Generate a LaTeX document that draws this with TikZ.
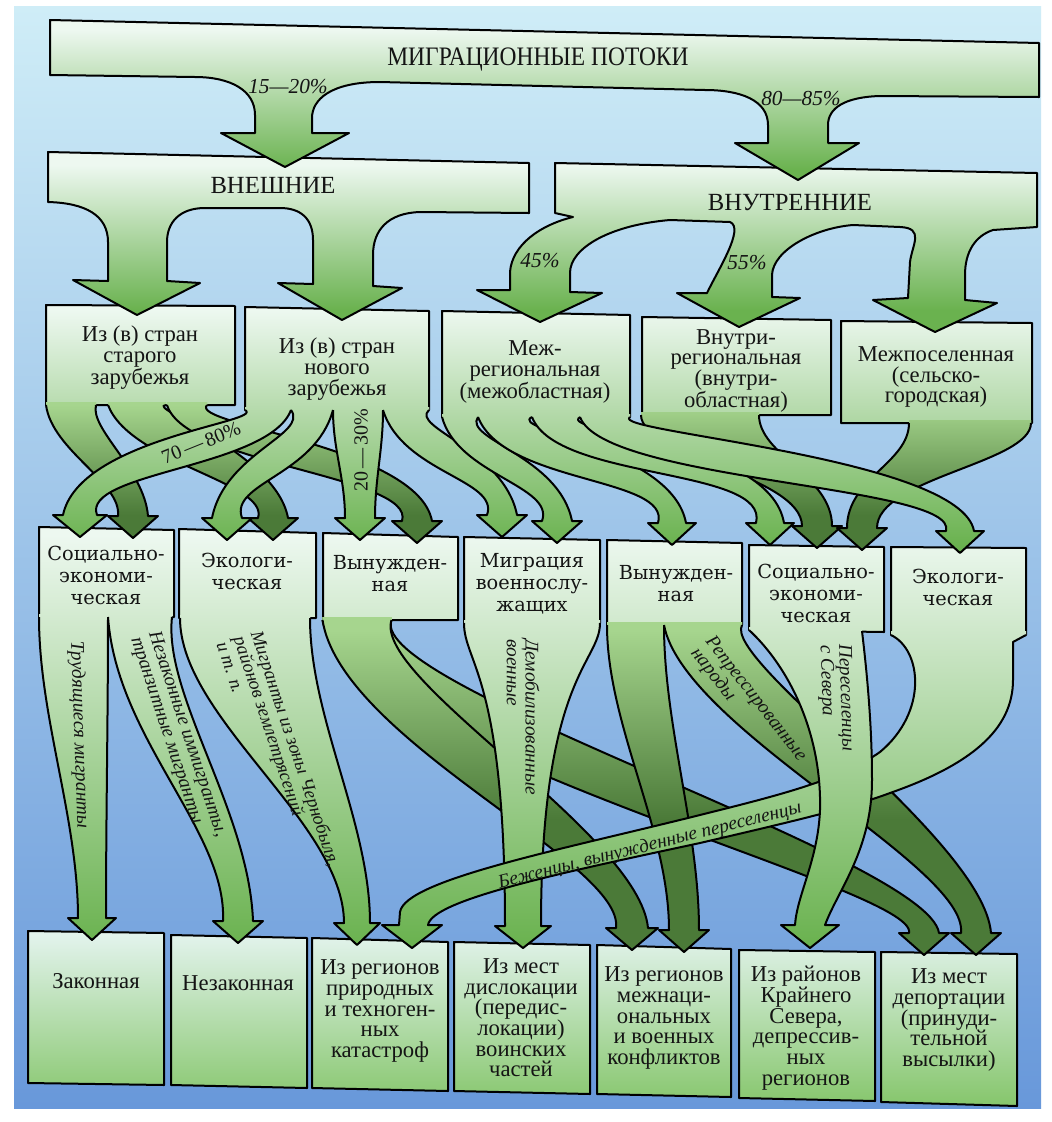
\documentclass[tikz,border=0pt]{standalone}
\usepackage{fontspec}
\setmainfont{Liberation Serif}
\newfontfamily\titlef[FakeStretch=0.88]{Liberation Serif}
\newfontfamily\schf{DejaVu Serif}
\definecolor{bgtop}{HTML}{CFEDF7}
\definecolor{bgmid}{HTML}{A2CAEC}
\definecolor{bgbot}{HTML}{6898DA}
\definecolor{gA}{HTML}{EDF8F0}
\definecolor{gB}{HTML}{6AB24F}
\definecolor{gM}{HTML}{A6D58E}
\definecolor{dB}{HTML}{4B7A38}
\definecolor{gAf}{HTML}{E2F3EC}
\definecolor{gBf}{HTML}{86C66C}
\tikzset{
  outl/.style={draw=black, line width=1.5pt, line join=round},
  grad/.style n args={4}{fill=#3, path picture={
      \fill[#3] (-50,-300) rectangle (1150,#1);
      \shade[top color=#3,bottom color=#4] (-50,#1) rectangle (1150,#2);
      \fill[#4] (-50,#2) rectangle (1150,1400);}},
  g0/.style={grad={30}{170}{gA}{gB}},
  g1/.style={grad={165}{310}{gA}{gB}},
  g2/.style={grad={310}{545}{gA}{gB}},
  d2/.style={grad={405}{515}{gM}{dB}},
  g3/.style={grad={535}{945}{gA}{gB}},
  d3/.style={grad={630}{820}{gM}{dB}},
  g4/.style={grad={935}{1105}{gAf}{gBf}},
  tt/.style={align=center, inner sep=0pt, text=black!92, font=\fontsize{17}{15.5}\selectfont},
  tt3/.style={align=center, inner sep=0pt, text=black!92, font=\schf\fontsize{14.5}{16.5}\selectfont},
  lab/.style={align=left, inner sep=0pt, text=black!92, font=\fontsize{14.5}{14}\selectfont\itshape},
  pct/.style={inner sep=0pt, text=black!92, font=\fontsize{16}{16}\selectfont\itshape},
  pcu/.style={inner sep=0pt, text=black!92, font=\fontsize{15}{15}\selectfont},
}
\def\RbK{1}
% #1 style, #2 x1, #3 y1, #4 w1, #5 x2, #6 y2 (head base), #7 w2, #8 c1, #9 c2
\newcommand\myrib[9]{%
\pgfmathsetmacro\RbDx{(#5)-(#2)}%
\pgfmathsetmacro\RbDy{((#6)-(#9))-((#3)+(#8))}%
\pgfmathsetmacro\RbA{(\RbDx)/100}%
\pgfmathsetmacro\RbB{(\RbDy)/100}%
\pgfmathsetmacro\RbL{100*sqrt((\RbA)*(\RbA)+(\RbB)*(\RbB))+0.001}%
\pgfmathsetmacro\RbOx{(1-\RbK)*(-1)+\RbK*(-(\RbDy)/\RbL)}%
\pgfmathsetmacro\RbOy{\RbK*((\RbDx)/\RbL)}%
\pgfmathsetmacro\RbaW{#2-(#4)/2}%
\pgfmathsetmacro\RbaE{#2+(#4)/2}%
\pgfmathsetmacro\RbbWx{#2+(\RbOx)*(#4)/2}%
\pgfmathsetmacro\RbbWy{#3+#8+(\RbOy)*(#4)/2}%
\pgfmathsetmacro\RbbEx{#2-(\RbOx)*(#4)/2}%
\pgfmathsetmacro\RbbEy{#3+#8-(\RbOy)*(#4)/2}%
\pgfmathsetmacro\RbcWx{#5+(\RbOx)*(#7)/2}%
\pgfmathsetmacro\RbcWy{#6-#9+(\RbOy)*(#7)/2}%
\pgfmathsetmacro\RbcEx{#5-(\RbOx)*(#7)/2}%
\pgfmathsetmacro\RbcEy{#6-#9-(\RbOy)*(#7)/2}%
\pgfmathsetmacro\RbdW{#5-(#7)/2}%
\pgfmathsetmacro\RbdE{#5+(#7)/2}%
\pgfmathsetmacro\RbhW{#5-(#7)/2-10}%
\pgfmathsetmacro\RbhE{#5+(#7)/2+10}%
\pgfmathsetmacro\RbtY{#6+22}%
\pgfmathsetmacro\RbyT{#3-3}%
\path[#1] (\RbaW,\RbyT) -- (\RbaW,#3) .. controls (\RbbWx,\RbbWy) and (\RbcWx,\RbcWy) .. (\RbdW,#6) -- (\RbhW,#6) -- (#5,\RbtY) -- (\RbhE,#6) -- (\RbdE,#6) .. controls (\RbcEx,\RbcEy) and (\RbbEx,\RbbEy) .. (\RbaE,#3) -- (\RbaE,\RbyT) -- cycle;
\draw[outl] (\RbaW,#3) .. controls (\RbbWx,\RbbWy) and (\RbcWx,\RbcWy) .. (\RbdW,#6) -- (\RbhW,#6) -- (#5,\RbtY) -- (\RbhE,#6) -- (\RbdE,#6) .. controls (\RbcEx,\RbcEy) and (\RbbEx,\RbbEy) .. (\RbaE,#3);
}
\begin{document}
\begin{tikzpicture}[x=0.75pt,y=-0.75pt]
\useasboundingbox (0,0) rectangle (1051,1122);
\fill[white] (0,0) rectangle (1051,1122);
\shade[top color=bgtop,middle color=bgmid,bottom color=bgbot] (14,6) rectangle (1041,1108);

% ---------------- level 4 boxes
\path[g4,outl] (28,931) -- (164,933) -- (164,1085) -- (28,1083) -- cycle;
\path[g4,outl] (171,935) -- (307,938) -- (307,1088) -- (171,1085) -- cycle;
\path[g4,outl] (312,938) -- (448,942) -- (448,1091) -- (312,1088) -- cycle;
\path[g4,outl] (454,942) -- (590,945) -- (590,1094) -- (454,1091) -- cycle;
\path[g4,outl] (597,945) -- (731,949) -- (731,1097) -- (597,1094) -- cycle;
\path[g4,outl] (739,950) -- (875,952) -- (875,1101) -- (739,1098) -- cycle;
\path[g4,outl] (881,952) -- (1017,954) -- (1017,1106) -- (881,1102) -- cycle;
\node[tt] (q1) at (96,981) {Законная};
\node[tt] (q2) at (238,983) {Незаконная};
\node[tt] (q3) at (380,1011) {Из регионов\\природных\\и техноген-\\ных\\катастроф};
\node[tt] (q4) at (521,1018) {Из мест\\дислокации\\(передис-\\локации)\\воинских\\частей};
\node[tt] (q5) at (664,1018) {Из регионов\\межнаци-\\ональных\\и военных\\конфликтов};
\node[tt] (q6) at (806,1028) {Из районов\\Крайнего\\Севера,\\депрессив-\\ных\\регионов};
\node[tt] (q7) at (949,1020) {Из мест\\депортации\\(принуди-\\тельной\\высылки)};

% ---------------- level 3 boxes
\path[g3,outl] (39,527) -- (174,530) -- (174,617) -- (39,617) -- cycle;
\path[g3,outl] (179,529) -- (316,533) -- (316,618) -- (179,618) -- cycle;
\path[g3,outl] (323,533) -- (458,537) -- (458,620) -- (323,620) -- cycle;
\path[g3,outl] (464,537) -- (600,540) -- (600,623) -- (464,623) -- cycle;
\path[g3,outl] (607,540) -- (742,543) -- (742,625) -- (607,625) -- cycle;
\path[g3,outl] (749,545) -- (884,547) -- (884,632) -- (749,630) -- cycle;
\path[g3,outl] (891,547) -- (1026,548) -- (1026,635) -- (891,635) -- cycle;

% dark flows level 3
\def\RbK{1}
\myrib{d3}{357}{620}{69}{924}{933}{30}{100}{60}
\myrib{d3}{357}{620}{69}{632}{928}{32}{90}{80}
\def\RbK{0}
\myrib{d3}{635.5}{625}{57}{684}{930}{30}{100}{100}
\def\RbK{1}
\myrib{d3}{703}{625}{78}{976}{933}{30}{70}{80}
% green flows level 3
\def\RbK{0}
\myrib{g3}{73.5}{617}{69}{92}{918}{28}{100}{100}
\def\RbK{1}
\myrib{g3}{140}{617}{64}{238}{921}{30}{100}{100}
\def\RbK{0}
\myrib{g3}{245}{618}{130}{357}{923}{26}{100}{100}
\myrib{g3}{532}{623}{136}{523}{926}{36}{40}{250}
% refugees band
\path[g3] (891,631) -- (891,635) .. controls (922,650) and (928,712) .. (880,752) .. controls (840,780) and (780,795) .. (700,815) .. controls (560,850) and (405,880) .. (400,912) -- (399,925) -- (382,925) -- (412,948) -- (442,925) -- (428,925) .. controls (432,900) and (560,873) .. (700,843) .. controls (790,822) and (850,808) .. (890,793) .. controls (970,765) and (1013,730) .. (1013,680) -- (1013,642) -- (1026,635) -- (1026,631) -- cycle;
\draw[outl] (891,635) .. controls (922,650) and (928,712) .. (880,752) .. controls (840,780) and (780,795) .. (700,815) .. controls (560,850) and (405,880) .. (400,912) -- (399,925) -- (382,925) -- (412,948) -- (442,925) -- (428,925) .. controls (432,900) and (560,873) .. (700,843) .. controls (790,822) and (850,808) .. (890,793) .. controls (970,765) and (1013,730) .. (1013,680) -- (1013,642) -- (1026,635);
% north settlers
\path[g3] (749,627) -- (749,630) .. controls (790,668) and (822,735) .. (820,810) .. controls (818,860) and (797,895) .. (795,925) -- (781,925) -- (810,948) -- (839,925) -- (825,925) .. controls (838,890) and (872,850) .. (872,780) .. controls (872,720) and (866,665) .. (862,631) -- (862,627) -- cycle;
\draw[outl] (749,630) .. controls (790,668) and (822,735) .. (820,810) .. controls (818,860) and (797,895) .. (795,925) -- (781,925) -- (810,948) -- (839,925) -- (825,925) .. controls (838,890) and (872,850) .. (872,780) .. controls (872,720) and (866,665) .. (862,631);

\node[tt3] (m1) at (106,575) {Социально-\\экономи-\\ческая};
\node[tt3] (m2) at (247,571) {Экологи-\\ческая};
\node[tt3] (m3) at (390,574) {Вынужден-\\ная};
\node[tt3] (m4) at (532,584) {Миграция\\военнослу-\\жащих};
\node[tt3] (m5) at (676,584) {Вынужден-\\ная};
\node[tt3] (m6) at (816,593) {Социально-\\экономи-\\ческая};
\node[tt3] (m7) at (958,587) {Экологи-\\ческая};

\node[lab,rotate=-88] (l1) at (79,735) {Трудящиеся мигранты};
\node[lab,rotate=-71.6] (l2) at (178,737) {Незаконные иммигранты,\\транзитные мигранты};
\node[lab,rotate=-71.5,font=\fontsize{14}{13.5}\selectfont\itshape] (l3) at (279,754) {Мигранты из зоны Чернобыля,\\районов землетрясений\\и т. п.};
\node[lab,rotate=-90] (l4) at (523,717) {Демобилизованные\\военные};
\node[lab,rotate=-52] (l5) at (748,705) {Репрессированные\\народы};
\node[lab,rotate=-88] (l6) at (836,698) {Переселенцы\\с Севера};
\node[lab,rotate=14] (l7) at (650,846) {Беженцы, вынужденные переселенцы};

% ---------------- level 2 boxes
\path[g2,outl] (46,305) -- (235,306) -- (235,405) -- (46,405) -- cycle;
\path[g2,outl] (245,307) -- (429,311) -- (429,410) -- (245,410) -- cycle;
\path[g2,outl] (442,311) -- (630,315) -- (630,417) -- (442,417) -- cycle;
\path[g2,outl] (642,317) -- (831,320) -- (831,415) -- (642,415) -- cycle;
\path[g2,outl] (841,321) -- (1032,323) -- (1032,423) -- (841,423) -- cycle;
% dark flows level 2
\def\RbK{0.5}
\myrib{d2}{71}{405}{50}{133}{516}{30}{35}{40}
\def\RbK{1}
\myrib{d2}{137}{405}{58}{273}{518}{30}{30}{50}
\myrib{d2}{187}{405}{40}{417}{521}{30}{40}{60}
\def\RbK{0}
\myrib{d2}{700}{415}{118}{817}{526}{30}{40}{50}
\myrib{d2}{970}{423}{122}{862}{528}{30}{40}{50}
% green flows level 2
\def\RbK{1}
\myrib{g2}{268}{410}{46}{80}{515}{34}{35}{60}
\myrib{g2}{312}{410}{42}{227}{518}{30}{45}{50}
\def\RbK{0}
\myrib{g2}{358}{410}{50}{360}{518}{30}{40}{40}
\def\RbK{1}
\myrib{g2}{406}{410}{46}{502}{515}{30}{40}{50}
\myrib{g2}{460}{417}{36}{557}{521}{30}{40}{50}
\myrib{g2}{505}{417}{54}{672}{523}{28}{40}{60}
\myrib{g2}{556}{417}{48}{770}{523}{28}{40}{70}
\myrib{g2}{605}{417}{50}{960}{531}{28}{40}{60}

\node[tt] (k1) at (140,358) {Из (в) стран\\старого\\зарубежья};
\node[tt] (k2) at (337,369) {Из (в) стран\\нового\\зарубежья};
\node[tt] (k3) at (535,372) {Меж-\\региональная\\(межобластная)};
\node[tt] (k4) at (736,371) {Внутри-\\региональная\\(внутри-\\областная)};
\node[tt] (k5) at (936,377) {Межпоселенная\\(сельско-\\городская)};
\node[pcu,rotate=22] (p70) at (201,443) {70\,—\,80\%};
\node[pcu,rotate=90] (p20) at (361,450) {20\,—\,30\%};

% ---------------- level 1
\path[g1,outl] (48,152) -- (529,163) -- (529,213) -- (420,212) .. controls (388,213) and (373,230) .. (373,255) -- (373,286) -- (402,288) -- (342,320) -- (278,283) -- (313,284) -- (313,240) .. controls (313,218) and (300,208) .. (280,208) -- (205,208) .. controls (180,208) and (167,222) .. (167,242) -- (167,281) -- (200,283) -- (137,315) -- (73,280) -- (108,281) -- (108,242) .. controls (108,215) and (85,203) .. (48,202) -- cycle;
\path[g1,outl] (555,163) -- (1037,173) -- (1037,227) -- (993,230) .. controls (975,236) and (965,252) .. (965,275) -- (965,300) -- (997,303) -- (935,332) -- (873,300) -- (908,298) -- (910,262) .. controls (912,245) and (925,228) .. (900,227) -- (853,225) .. controls (815,228) and (773,250) .. (772,275) -- (772,297) -- (800,298) -- (739,327) -- (677,293) -- (707,293) .. controls (718,270) and (745,228) .. (730,222) -- (670,220) .. controls (610,225) and (570,248) .. (570,273) -- (570,292) -- (602,293) -- (540,322) -- (477,290) -- (510,290) -- (510,272) .. controls (512,245) and (540,225) .. (573,217) -- (555,213) -- cycle;
\node[tt,font=\fontsize{18.5}{20}\selectfont] (ext) at (273,185) {ВНЕШНИЕ};
\node[tt,font=\fontsize{18.5}{20}\selectfont] (int) at (790,203) {ВНУТРЕННИЕ};
\node[pct] (p45) at (540,261) {45\%};
\node[pct] (p55) at (747,263) {55\%};

% ---------------- level 0
\path[g0,outl] (50,20) -- (1039,43) -- (1039,97) -- (880,96) .. controls (845,97) and (828,108) .. (828,125) -- (828,143) -- (859,143) -- (798,180) -- (735,143) -- (768,143) -- (768,125) .. controls (768,100) and (740,90) .. (705,90) -- (380,82) .. controls (330,82) and (312,100) .. (312,118) -- (312,133) -- (349,133) -- (285,167) -- (221,133) -- (255,133) -- (255,115) .. controls (255,90) and (230,77) .. (195,77) -- (50,75) -- cycle;
\node[tt,font=\titlef\fontsize{20}{22}\selectfont] (top) at (538,60) {МИГРАЦИОННЫЕ ПОТОКИ};
\node[pct] (p15) at (288,87) {15—20\%};
\node[pct] (p80) at (801,99) {80—85\%};
\end{tikzpicture}
\end{document}
